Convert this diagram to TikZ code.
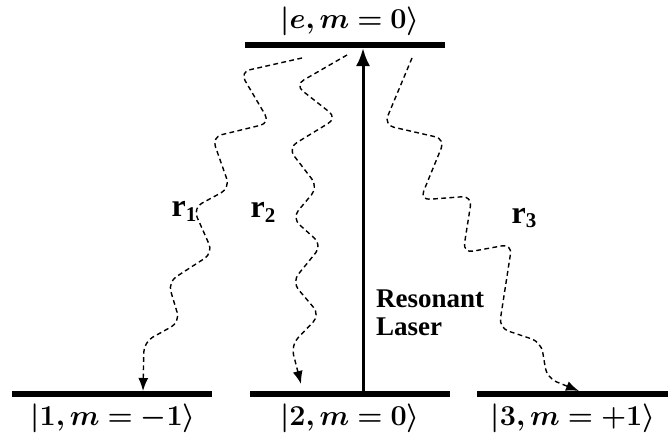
\documentclass[tikz,border=0pt]{standalone}
\usepackage{fontspec}
\setmainfont{Liberation Serif}
\usepackage{bm}
\usetikzlibrary{arrows.meta}
\tikzset{
  level/.style={line width=2.6pt},
  photon/.style={dash pattern=on 2.4pt off 1.7pt, line width=0.7pt, rounded corners=5pt,
    -{Latex[length=6.5pt,width=5pt]}},
  ketlabel/.style={font=\fontsize{14}{16}\selectfont},
  ratelabel/.style={font=\fontsize{13.5}{16}\selectfont\bfseries},
}
\newcommand{\ratesub}[1]{{\fontsize{16}{18}\selectfont r}\raisebox{-0.4ex}{\fontsize{10.5}{12}\selectfont #1}}
\begin{document}
\begin{tikzpicture}[x=0.5pt,y=-0.5pt]
 \useasboundingbox (0,0) rectangle (668,434);
 % energy levels
 \draw[level] (245,45) coordinate (e-l) -- (445,45) coordinate (e-r);
 \draw[level] (12,394) coordinate (g1-l) -- (212,394) coordinate (g1-r);
 \draw[level] (250,394) coordinate (g2-l) -- (450,394) coordinate (g2-r);
 \draw[level] (477,394) coordinate (g3-l) -- (668,394) coordinate (g3-r);
 \node[ketlabel] (ket-e) at (350,21) {$\bm{|e, m = 0\rangle}$};
 \node[ketlabel] (ket-1) at (113,418) {$\bm{|1, m = -1\rangle}$};
 \node[ketlabel] (ket-2) at (350,418) {$\bm{|2, m = 0\rangle}$};
 \node[ketlabel] (ket-3) at (573,418) {$\bm{|3, m = +1\rangle}$};
 % laser
 \coordinate (laser-base) at (363,393);
 \coordinate (laser-top) at (363,48);
 \draw[line width=1.5pt, -{Latex[length=9pt,width=7pt]}] (laser-base) -- (laser-top);
 \node[ratelabel, anchor=west, align=left] (laser) at (369,313) {Resonant\\[-2pt]Laser};
 % decay channels
 \coordinate (r1-start) at (302,58);
 \coordinate (r1-end) at (143,391);
 \draw[photon] (r1-start) -- (240,72) -- (270,123) -- (212,137) -- (230,188) -- (193,208)
   -- (213,253) -- (168,282) -- (180,322) -- (144,342) -- (r1-end);
 \coordinate (r2-start) at (347,55);
 \coordinate (r2-end) at (301,384);
 \draw[photon] (r2-start) -- (295,85) -- (337,118) -- (288,148) -- (318,187) -- (292,218)
   -- (322,245) -- (292,282) -- (320,315) -- (291,345) -- (r2-end);
 \coordinate (r3-start) at (412,58);
 \coordinate (r3-end) at (579,391);
 \draw[photon] (r3-start) -- (384,125) -- (445,139) -- (420,200) -- (472,196) -- (463,253)
   -- (512,244) -- (499,328) -- (541,342) -- (547,378) -- (r3-end);
 \node[ratelabel] (rate-1) at (184,211) {\ratesub{1}};
 \node[ratelabel] (rate-2) at (263,212) {\ratesub{2}};
 \node[ratelabel] (rate-3) at (524,218) {\ratesub{3}};
\end{tikzpicture}
\end{document}
